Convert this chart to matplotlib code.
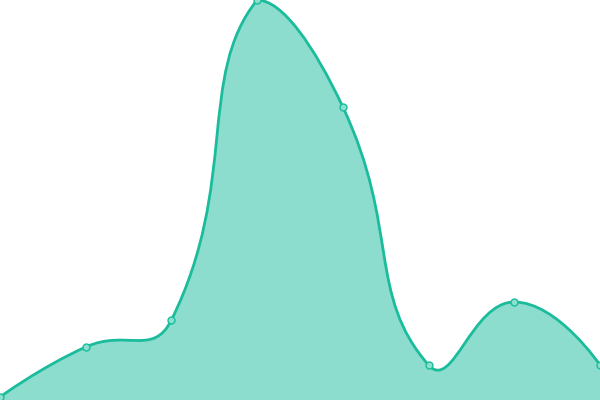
import numpy as np
import matplotlib
matplotlib.use("Agg")
import matplotlib.pyplot as plt
from matplotlib.path import Path
from matplotlib.patches import PathPatch

# values (y axis 0..400)
categories = ["A", "B", "C", "D", "E", "F", "G", "H"]
values = [3, 53, 80, 400, 293, 35, 98, 35]

LINE = "#1abc9c"
SMOOTH = 0.5


def bezier_path(pts):
    # echarts-like smoothing in pixel space, control points kept in the bbox
    lo, hi = pts.min(axis=0), pts.max(axis=0)
    n = len(pts)
    cps_out, cps_in = [], []
    for i in range(n):
        p = pts[i]
        if i == 0 or i == n - 1:
            cps_out.append(p)
            cps_in.append(p)
            continue
        prev, nxt = pts[i - 1], pts[i + 1]
        v = nxt - prev
        l0 = np.hypot(*(p - prev))
        l1 = np.hypot(*(nxt - p))
        r = l1 / (l0 + l1)
        cps_out.append(np.clip(p + v * SMOOTH * r, lo, hi))
        cps_in.append(np.clip(p - v * SMOOTH * (1 - r), lo, hi))
    verts = [tuple(pts[0])]
    codes = [Path.MOVETO]
    for i in range(n - 1):
        verts += [tuple(cps_out[i]), tuple(cps_in[i + 1]), tuple(pts[i + 1])]
        codes += [Path.CURVE4] * 3
    return verts, codes


fig = plt.figure(figsize=(6, 4), dpi=100)
ax = fig.add_axes([0, 0, 1, 1])
ax.set_xlim(0, len(categories) - 1)
ax.set_ylim(0, 400)
ax.axis("off")

x = np.arange(len(categories))
pix = ax.transData.transform(np.column_stack([x, values]))
verts, codes = bezier_path(pix)
data_verts = ax.transData.inverted().transform(np.array(verts))

line_path = Path(data_verts, codes)
area_verts = np.vstack([data_verts, [[x[-1], 0], [x[0], 0], data_verts[0]]])
area_codes = codes + [Path.LINETO, Path.LINETO, Path.CLOSEPOLY]
ax.add_patch(PathPatch(Path(area_verts, area_codes), facecolor=LINE, alpha=0.5,
                       edgecolor="none"))
ax.add_patch(PathPatch(line_path, facecolor="none", edgecolor=LINE, lw=2.0))
ax.plot(x, values, "o", ms=5, mfc="#8ce0cf", mec=LINE, mew=1.0, clip_on=False)

fig.savefig("out.png", dpi=100)
